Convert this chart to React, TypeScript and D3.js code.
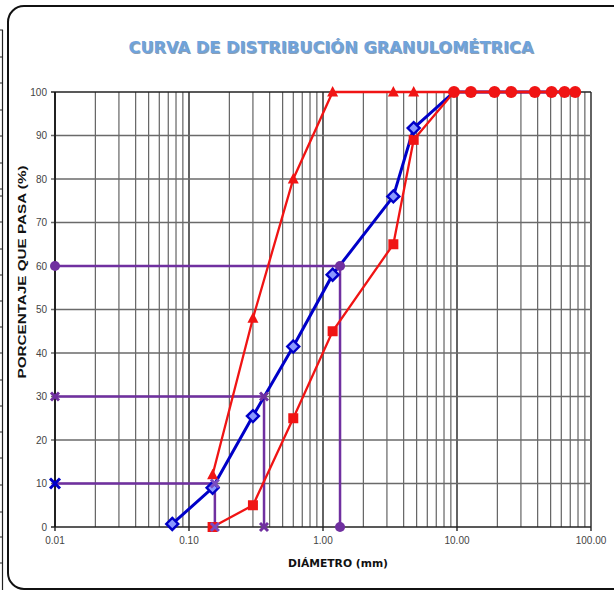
import React from "react";
import * as d3 from "d3";

const sieves = [0.075, 0.15, 0.3, 0.6, 1.18, 3.35, 4.75, 9.5, 12.7, 19.05, 25.4, 38.1, 50.8, 63.5, 76.2];
const sample = [0.7, 9, 25.5, 41.5, 58, 76, 91.7, 100, 100, 100, 100, 100, 100, 100, 100];
const lowerLimit = [null, 0, 5, 25, 45, 65, 89, 100, 100, 100, 100, 100, 100, 100, 100];
const upperLimit = [null, 12, 48, 80, 100, 100, 100, 100, 100, 100, 100, 100, 100, 100, 100];
const dValues = [
  { pct: 10, d: 0.156 },
  { pct: 30, d: 0.363 },
  { pct: 60, d: 1.34 },
];
const yTicks = [0, 10, 20, 30, 40, 50, 60, 70, 80, 90, 100];
const xTickLabels = ["0.01", "0.10", "1.00", "10.00", "100.00"];
const xDecades = [0.01, 0.1, 1, 10, 100];
const leftRowLines = [30, 57, 83, 110, 136, 163, 189, 196, 222, 249, 275, 301, 327, 353, 380, 406, 432, 458, 485, 512, 537, 563];

const W = 614;
const H = 590;
const x = d3.scaleLog().domain([0.01, 100]).range([55, 591]);
const y = d3.scaleLinear().domain([0, 100]).range([527, 92]);

const BLUE = "#0000c8";
const RED = "#f01414";
const PURPLE = "#7030a0";

function pts(vals: (number | null)[]) {
  return sieves
    .map((s, i) => ({ s, v: vals[i] }))
    .filter((p) => p.v !== null) as { s: number; v: number }[];
}

const line = d3
  .line<{ s: number; v: number }>()
  .x((p) => x(p.s))
  .y((p) => y(p.v));

function Cross({ cx, cy, color, r = 5 }: { cx: number; cy: number; color: string; r?: number }) {
  return (
    <g stroke={color} strokeWidth={3}>
      <line x1={cx - r} y1={cy - r} x2={cx + r} y2={cy + r} />
      <line x1={cx - r} y1={cy + r} x2={cx + r} y2={cy - r} />
    </g>
  );
}

export default function App() {
  const minor: number[] = [];
  for (let dec = 0.01; dec < 100; dec *= 10) {
    for (let m = 2; m <= 9; m++) minor.push(+(dec * m).toPrecision(3));
  }
  const triPath = (cx: number, cy: number) =>
    `M${cx},${cy - 6}L${cx + 5.5},${cy + 4.5}L${cx - 5.5},${cy + 4.5}Z`;

  return (
    <svg width={W} height={H} style={{ position: "absolute", left: 0, top: 0 }}>
      <rect x={0} y={0} width={W} height={H} fill="#fff" />
      {/* spreadsheet background artifacts on the left */}
      <line x1={2.5} y1={30} x2={2.5} y2={H} stroke="#222" strokeWidth={1.2} />
      {leftRowLines.map((ly) => (
        <line key={ly} x1={0} y1={ly} x2={3} y2={ly} stroke="#222" strokeWidth={1} />
      ))}
      {/* frame */}
      <rect x={8} y={6} width={620} height={583} rx={16} ry={16} fill="#fff" stroke="#111" strokeWidth={2} />

      {/* title */}
      <text
        x={331}
        y={53}
        textAnchor="middle"
        fontFamily="'DejaVu Sans', sans-serif"
        fontWeight="bold"
        fontSize={15}
        textLength={405}
        lengthAdjust="spacingAndGlyphs"
        fill="#8c9fb5"
        transform="translate(1,1)"
      >
        CURVA DE DISTRIBUCIÓN GRANULOMÉTRICA
      </text>
      <text
        x={331}
        y={53}
        textAnchor="middle"
        fontFamily="'DejaVu Sans', sans-serif"
        fontWeight="bold"
        fontSize={15}
        textLength={405}
        lengthAdjust="spacingAndGlyphs"
        fill="#6fa3dc"
      >
        CURVA DE DISTRIBUCIÓN GRANULOMÉTRICA
      </text>

      {/* grid */}
      {minor.map((m) => (
        <line key={"m" + m} x1={x(m)} x2={x(m)} y1={y(100)} y2={y(0)} stroke="#555" strokeWidth={1.1} />
      ))}
      {xDecades.map((d) => (
        <line key={"d" + d} x1={x(d)} x2={x(d)} y1={y(100)} y2={y(0) + 4} stroke="#222" strokeWidth={1.4} />
      ))}
      {yTicks.map((t) => (
        <line key={"h" + t} x1={x(0.01) - 4} x2={x(100)} y1={y(t)} y2={y(t)} stroke={t === 0 || t === 100 ? "#222" : "#6a6a6a"} strokeWidth={t === 0 || t === 100 ? 1.4 : 1.6} />
      ))}
      <line x1={x(0.01)} x2={x(0.01)} y1={y(100)} y2={y(0)} stroke="#111" strokeWidth={1.6} />

      {/* tick labels */}
      {yTicks.map((t) => (
        <text key={"yl" + t} x={x(0.01) - 8} y={y(t) + 3.5} textAnchor="end" fontFamily="'Liberation Sans', Arial, sans-serif" fontSize={10} fill="#444">
          {t}
        </text>
      ))}
      {xDecades.map((d, i) => (
        <text key={"xl" + d} x={x(d)} y={y(0) + 17} textAnchor="middle" fontFamily="'Liberation Sans', Arial, sans-serif" fontSize={10} fill="#444">
          {xTickLabels[i]}
        </text>
      ))}

      {/* axis titles */}
      <text x={338} y={567} textAnchor="middle" fontFamily="'DejaVu Sans', sans-serif" fontWeight="bold" fontSize={10.5} fill="#111" textLength={100} lengthAdjust="spacingAndGlyphs">
        DIÁMETRO (mm)
      </text>
      <text
        transform="translate(26,272) rotate(-90)"
        textAnchor="middle"
        fontFamily="'Liberation Sans', Arial, sans-serif"
        fontWeight="bold"
        fontSize={11}
        fill="#111"
        textLength={213}
        lengthAdjust="spacingAndGlyphs"
      >
        PORCENTAJE QUE PASA (%)
      </text>

      {/* D-lines (purple) */}
      {dValues.map((dv) => (
        <path
          key={"dl" + dv.pct}
          d={`M${x(0.01)},${y(dv.pct)}H${x(dv.d)}V${y(0)}`}
          fill="none"
          stroke={PURPLE}
          strokeWidth={2.5}
        />
      ))}

      {/* blue sample curve */}
      <path d={line(pts(sample)) || ""} fill="none" stroke={BLUE} strokeWidth={3} />
      {/* limits */}
      <path d={line(pts(upperLimit)) || ""} fill="none" stroke={RED} strokeWidth={2.3} />
      <path d={line(pts(lowerLimit)) || ""} fill="none" stroke={RED} strokeWidth={2.3} />

      {/* markers */}
      {pts(upperLimit).map((p, i) =>
        p.s < 9 ? <path key={"t" + i} d={triPath(x(p.s), y(p.v))} fill={RED} /> : null
      )}
      {pts(lowerLimit).map((p, i) =>
        p.s < 9 ? <rect key={"s" + i} x={x(p.s) - 5} y={y(p.v) - 5} width={10} height={10} fill={RED} /> : null
      )}
      {pts(sample).map((p, i) =>
        p.s < 9 ? (
          <path
            key={"b" + i}
            d={`M${x(p.s)},${y(p.v) - 6}L${x(p.s) + 6},${y(p.v)}L${x(p.s)},${y(p.v) + 6}L${x(p.s) - 6},${y(p.v)}Z`}
            fill="#8a98ff"
            stroke={BLUE}
            strokeWidth={2.4}
          />
        ) : null
      )}
      {pts(upperLimit).map((p, i) =>
        p.s > 9 ? <circle key={"c" + i} cx={x(p.s)} cy={y(p.v)} r={6} fill={RED} /> : null
      )}

      {/* D markers */}
      <Cross cx={x(0.01)} cy={y(10)} color={BLUE} />
      <Cross cx={x(dValues[0].d)} cy={y(10)} color="#7a4cc0" r={4} />
      <Cross cx={x(dValues[0].d)} cy={y(0)} color="#7a4cc0" r={4} />
      <Cross cx={x(0.01)} cy={y(30)} color={PURPLE} r={4} />
      <Cross cx={x(dValues[1].d)} cy={y(30)} color={PURPLE} r={4} />
      <Cross cx={x(dValues[1].d)} cy={y(0)} color={PURPLE} r={4} />
      <circle cx={x(0.01)} cy={y(60)} r={5} fill={PURPLE} />
      <circle cx={x(dValues[2].d)} cy={y(60)} r={5} fill={PURPLE} />
      <circle cx={x(dValues[2].d)} cy={y(0)} r={5} fill={PURPLE} />
    </svg>
  );
}
